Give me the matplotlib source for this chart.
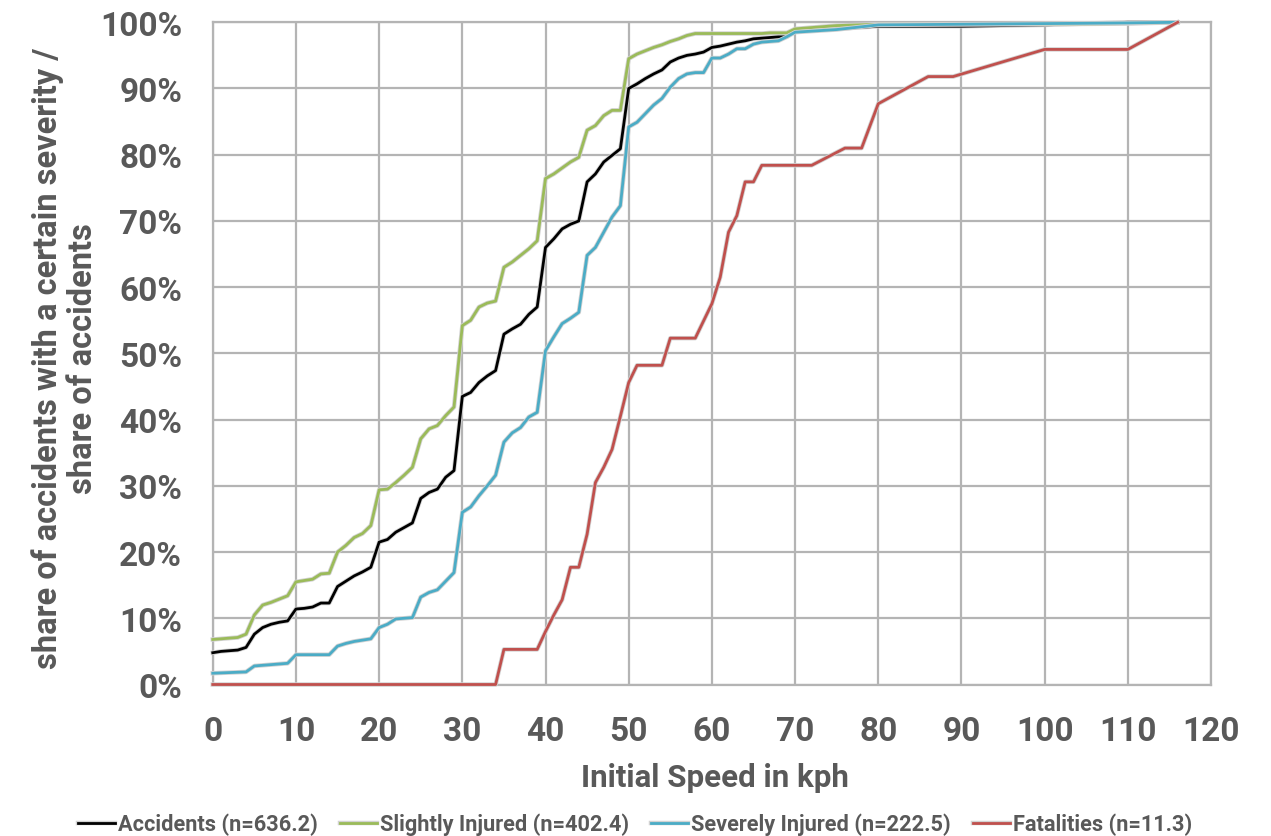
import matplotlib
matplotlib.use("Agg")
from matplotlib import pyplot as plt
from matplotlib import patheffects as pe
from matplotlib.ticker import FuncFormatter

# speeds shared by the first three series (kph)
speed_kph = list(range(0, 71)) + [75, 80, 90, 100, 110, 116]

accidents = [4.8, 5.0, 5.1, 5.2, 5.6, 7.6, 8.6, 9.1, 9.4, 9.6,
             11.4, 11.5, 11.7, 12.3, 12.3, 14.8, 15.6, 16.4, 17.0, 17.7,
             21.5, 21.9, 23.0, 23.7, 24.4, 28.1, 29.0, 29.5, 31.3, 32.3,
             43.5, 44.1, 45.6, 46.6, 47.4, 52.9, 53.7, 54.4, 55.9, 57.0,
             66.0, 67.3, 68.8, 69.5, 70.0, 75.9, 77.1, 78.9, 79.9, 80.9,
             90.0, 90.7, 91.5, 92.2, 92.8, 94.0, 94.6, 95.0, 95.2, 95.5,
             96.2, 96.4, 96.7, 97.0, 97.2, 97.5, 97.6, 97.7, 97.8, 97.8,
             98.8, 99.0, 99.4, 99.4, 99.6, 100.0, 100.0]

slightly = [6.8, 6.9, 7.0, 7.1, 7.6, 10.5, 12.0, 12.4, 12.9, 13.4,
            15.5, 15.7, 15.9, 16.7, 16.8, 20.0, 21.0, 22.2, 22.8, 24.0,
            29.4, 29.5, 30.5, 31.6, 32.8, 37.1, 38.6, 39.1, 40.6, 41.9,
            54.2, 55.0, 57.0, 57.6, 57.9, 63.0, 63.8, 64.8, 65.8, 67.0,
            76.4, 77.1, 78.0, 78.9, 79.6, 83.7, 84.4, 85.9, 86.7, 86.7,
            94.5, 95.2, 95.7, 96.2, 96.6, 97.1, 97.5, 98.0, 98.3, 98.3,
            98.3, 98.3, 98.3, 98.3, 98.3, 98.3, 98.3, 98.4, 98.4, 98.4,
            99.0, 99.5, 99.7, 99.7, 99.7, 99.8, 100.0]

severely = [1.7, 1.75, 1.8, 1.85, 1.9, 2.8, 2.9, 3.0, 3.1, 3.2,
            4.5, 4.5, 4.5, 4.5, 4.5, 5.8, 6.2, 6.5, 6.7, 6.9,
            8.6, 9.1, 9.9, 10.0, 10.1, 13.2, 13.9, 14.3, 15.6, 16.9,
            26.0, 26.8, 28.5, 30.0, 31.6, 36.6, 38.0, 38.8, 40.4, 41.1,
            50.4, 52.5, 54.5, 55.3, 56.2, 64.8, 66.0, 68.3, 70.6, 72.3,
            84.2, 84.9, 86.2, 87.5, 88.5, 90.2, 91.5, 92.2, 92.4, 92.4,
            94.6, 94.6, 95.2, 96.0, 96.0, 96.7, 97.0, 97.1, 97.2, 97.8,
            98.5, 98.9, 99.6, 99.7, 99.8, 99.9, 100.0]

fatal_speed = [0, 34, 35, 39, 40, 41, 42, 43, 44, 45, 46, 47, 48, 49, 50,
               51, 54, 55, 58, 60, 61, 62, 63, 64, 65, 66, 72, 76, 78, 80,
               86, 89, 100, 110, 116]
fatalities = [0, 0, 5.3, 5.3, 8.0, 10.5, 12.8, 17.7, 17.7, 22.7, 30.5, 32.8,
              35.5, 40.5, 45.6, 48.2, 48.2, 52.3, 52.3, 57.5, 61.5, 68.3,
              70.8, 75.9, 75.9, 78.4, 78.4, 81.0, 81.0, 87.7, 91.8, 91.8,
              95.9, 95.9, 100.0]

labels = ["Accidents (n=636.2)", "Slightly Injured (n=402.4)",
          "Severely Injured (n=222.5)", "Fatalities (n=11.3)"]
colors = ["#000000", "#9bbb59", "#4bacc6", "#c0504d"]

text_col = "#595959"
grid_col = "#b4b4b4"
plt.rcParams["font.family"] = ["Roboto", "DejaVu Sans"]
plt.rcParams["font.weight"] = "bold"

fig = plt.figure(figsize=(12.71, 8.37), dpi=100)
ax = fig.add_axes([0.1674, 0.181, 0.7854, 0.7912])

series = [(speed_kph, accidents), (speed_kph, slightly),
          (speed_kph, severely), (fatal_speed, fatalities)]
halo = [pe.Stroke(linewidth=3.2, foreground="#d2d2d2"), pe.Normal()]
for (xs, ys), lab, col in zip(series, labels, colors):
    ax.plot(xs, ys, color=col, lw=2.0, label=lab, path_effects=halo,
            solid_joinstyle="round", clip_on=False, zorder=3)

ax.set_xlim(0, 120)
ax.set_ylim(0, 100)
ax.set_xticks(range(0, 121, 10))
ax.set_yticks(range(0, 101, 10))
ax.yaxis.set_major_formatter(FuncFormatter(lambda v, p: f"{v:.0f}%"))
ax.grid(True, color=grid_col, lw=1.6)
ax.set_axisbelow(True)
for sp in ax.spines.values():
    sp.set_color(grid_col)
    sp.set_linewidth(1.6)
ax.tick_params(length=0, labelsize=24, labelcolor=text_col)
ax.tick_params(axis="x", pad=22)
ax.tick_params(axis="y", pad=22)

fig.text(65 / 1271, 0.572,
         "share of accidents with a certain severity /\nshare of accidents",
         rotation=90, ha="center", va="center", multialignment="center",
         fontsize=23.5, color=text_col, linespacing=1.1)
fig.text(715 / 1271, 1 - 778 / 837, "Initial Speed in kph",
         ha="center", va="center", fontsize=22.5, color=text_col)

fig.legend(loc="center", bbox_to_anchor=(635 / 1271, 1 - 825 / 837),
           ncol=4, frameon=False, fontsize=15.7, labelcolor=text_col,
           handlelength=1.7, handletextpad=0.15, columnspacing=1.0)

fig.savefig("out.png", dpi=100)
